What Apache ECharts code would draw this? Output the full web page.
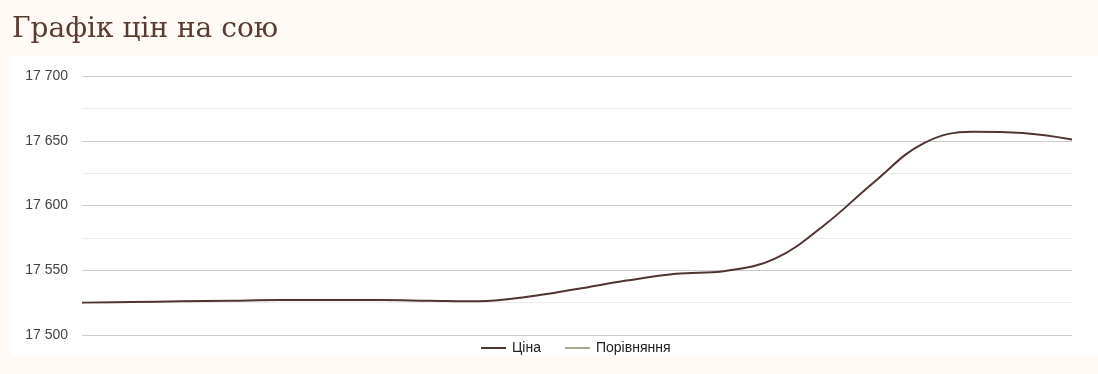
<!DOCTYPE html>
<html>
<head>
<meta charset="utf-8">
<script src="https://cdn.jsdelivr.net/npm/echarts@6/dist/echarts.min.js"></script>
<style>
html,body{margin:0;padding:0;background:#fffaf6;}
#c{width:1098px;height:374px;}
</style>
</head>
<body>
<div id="c"></div>
<script>
const titleText = "Графік цін на сою";
const seriesNames = ["Ціна", "Порівняння"];
const categories = ["1","2","3","4","5","6","7","8","9","10","11","12","13","14","15","16","17","18","19","20","21"];
const priceValues = [17525, 17525.5, 17526, 17526.5, 17527, 17527, 17527, 17526.5, 17526, 17529.5, 17535.5, 17542, 17547.3, 17549.5, 17559, 17585, 17618, 17648, 17657, 17656, 17651];
const compareValues = categories.map(() => null);
const yTicks = [17500, 17550, 17600, 17650, 17700];

const chart = echarts.init(document.getElementById('c'), null, {renderer: 'canvas'});
function fmt(v){ return String(v).replace(/\B(?=(\d{3})+(?!\d))/g, ' '); }
chart.setOption({
  backgroundColor: '#fffaf6',
  animation: false,
  title: {
    text: titleText, left: 7, top: 11,
    textStyle: {fontFamily: 'DejaVu Serif', fontWeight: 'normal', fontSize: 28, color: '#5a3b32'}
  },
  graphic: [{
    type: 'rect', left: 12, top: 56, z: -10,
    shape: {width: 1086, height: 299},
    style: {fill: '#ffffff'}
  }],
  grid: {left: 82, right: 26, top: 76, bottom: 39},
  legend: {
    data: seriesNames, top: 336, left: 476,
    icon: 'rect', itemWidth: 25, itemHeight: 2, itemGap: 24,
    textStyle: {fontFamily: 'Liberation Sans, Arial', fontSize: 14, color: '#222', padding: [0,0,0,1]}
  },
  xAxis: {
    type: 'category', data: categories, boundaryGap: false,
    axisLine: {show: false}, axisTick: {show: false}, axisLabel: {show: false}, splitLine: {show: false}
  },
  yAxis: {
    type: 'value', min: yTicks[0], max: yTicks[yTicks.length-1], interval: 50,
    axisLine: {show: false}, axisTick: {show: false},
    axisLabel: {formatter: fmt, fontFamily: 'Liberation Sans, Arial', fontSize: 14, color: '#444', margin: 14},
    splitLine: {lineStyle: {color: '#cccccc', width: 1}},
    minorTick: {show: false, splitNumber: 2},
    minorSplitLine: {show: true, lineStyle: {color: '#ebebeb', width: 1}}
  },
  series: [
    {name: seriesNames[1], type: 'line', data: compareValues, showSymbol: false, smooth: 0.4,
     lineStyle: {color: '#a6a88e', width: 2}, itemStyle: {color: '#a6a88e'}},
    {name: seriesNames[0], type: 'line', data: priceValues, showSymbol: false, smooth: 0.4,
     lineStyle: {color: '#4e3530', width: 2}, itemStyle: {color: '#4e3530'}}
  ]
});
</script>
</body>
</html>
